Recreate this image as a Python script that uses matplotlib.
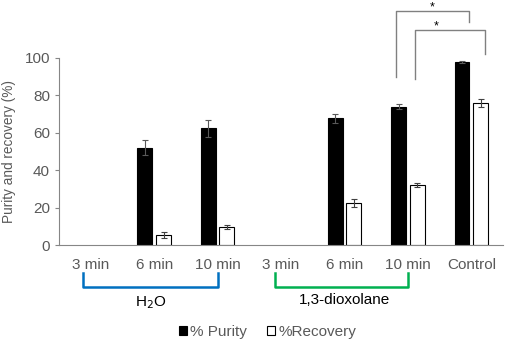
import numpy as np
import matplotlib.pyplot as plt

plt.rcParams['font.family'] = ['Liberation Sans', 'DejaVu Sans']

categories = ['3 min', '6 min', '10 min', '3 min', '6 min', '10 min', 'Control']
purity = [0, 52.1, 62.5, 0, 67.7, 73.9, 98.0]
purity_err = [0, 4.1, 4.5, 0, 2.3, 1.3, 0.6]
recovery = [0, 5.2, 9.5, 0, 22.5, 32.0, 75.9]
recovery_err = [0, 1.6, 1.1, 0, 2.1, 0.9, 2.3]
groups = ['H$_2$O', '1,3-dioxolane']

grey = '#595959'
fig = plt.figure(figsize=(5.05, 3.41), dpi=100)
ax = fig.add_axes([0.117, 0.2815, 0.879, 0.5485])

x = np.arange(len(categories))
w = 0.235
off = 0.147
p = np.array(purity)
r = np.array(recovery)
mp = p > 0
mr = r > 0
ax.bar(x[mp] - off, p[mp], w, color='black', edgecolor='black', linewidth=0.8, label='% Purity', zorder=2)
ax.bar(x[mr] + off, r[mr], w, color='white', edgecolor='black', linewidth=0.8, label='%Recovery', zorder=2)
ax.errorbar(x[mp] - off, p[mp], yerr=np.array(purity_err)[mp], fmt='none', ecolor='#595959',
            elinewidth=0.8, capsize=2.5, capthick=0.8, zorder=3)
ax.errorbar(x[mr] + off, r[mr], yerr=np.array(recovery_err)[mr], fmt='none', ecolor='#404040',
            elinewidth=0.8, capsize=2.5, capthick=0.8, zorder=3)

ax.set_xlim(-0.5, 6.5)
ax.set_ylim(0, 100)
ax.set_yticks(range(0, 101, 20))
ax.set_xticks(x)
ax.set_xticklabels(categories)
for s in ['top', 'right']:
    ax.spines[s].set_visible(False)
for s in ['left', 'bottom']:
    ax.spines[s].set_color('#868686')
    ax.spines[s].set_linewidth(0.8)
ax.tick_params(axis='y', colors='#868686', labelcolor=grey, labelsize=11, length=3, width=0.8)
ax.tick_params(axis='x', length=0, labelcolor=grey, labelsize=11, pad=9)
ax.set_ylabel('Purity and recovery (%)', color=grey, fontsize=9.8, labelpad=6)

# significance brackets
bk = '#808080'
ax.plot([4.81, 4.81, 5.97, 5.97], [90, 125, 125, 119], color=bk, lw=1, clip_on=False)
ax.text(5.39, 127.2, '*', ha='center', va='center', fontsize=9, color='black')
ax.plot([5.12, 5.12, 6.22, 6.22], [89, 115, 115, 102], color=bk, lw=1, clip_on=False)
ax.text(5.45, 117.0, '*', ha='center', va='center', fontsize=9, color='black')

# group brackets under the category labels
tr = ax.get_xaxis_transform()
ax.plot([-0.12, -0.12, 2.0, 2.0], [-0.15, -0.225, -0.225, -0.15], color='#0070C0', lw=1.8,
        transform=tr, clip_on=False)
ax.plot([2.9, 2.9, 5.0, 5.0], [-0.15, -0.225, -0.225, -0.15], color='#00B050', lw=1.8,
        transform=tr, clip_on=False)
ax.text(0.94, -0.31, groups[0], ha='center', va='center', fontsize=11, color='black', transform=tr)
ax.text(4.0, -0.295, groups[1], ha='center', va='center', fontsize=11, color='black', transform=tr)

leg = fig.legend(loc='center', bbox_to_anchor=(0.53, 0.027), ncol=2, frameon=False, fontsize=11,
                 handlelength=0.5, handleheight=0.5, handletextpad=0.25, columnspacing=1.3)
for t in leg.get_texts():
    t.set_color(grey)

fig.savefig('out.png', dpi=100)
